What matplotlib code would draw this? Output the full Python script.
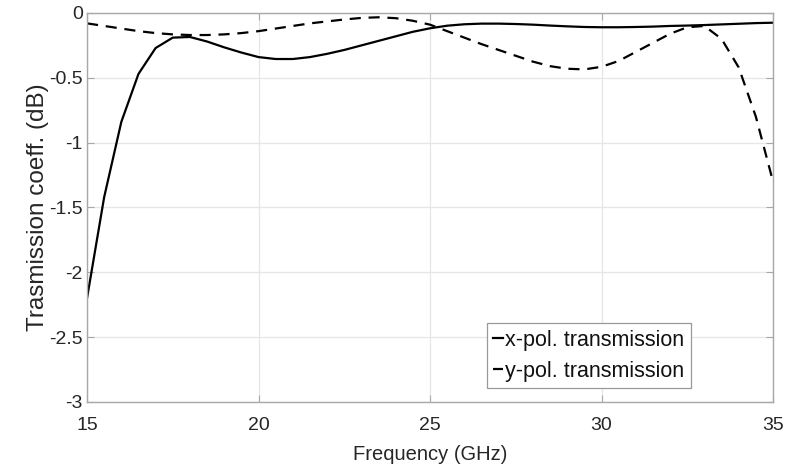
import numpy as np
import matplotlib
matplotlib.use("Agg")
import matplotlib.pyplot as plt

plt.rcParams["font.family"] = ["Liberation Sans", "DejaVu Sans"]

# frequency samples (GHz)
freq = np.arange(15.0, 35.01, 0.5)

# x-pol. transmission (dB)
x_pol = [-2.20, -1.42, -0.84, -0.47, -0.27, -0.19, -0.185, -0.22, -0.265, -0.305,
         -0.34, -0.355, -0.355, -0.34, -0.315, -0.285, -0.25, -0.215, -0.18, -0.145,
         -0.118, -0.098, -0.087, -0.082, -0.082, -0.085, -0.09, -0.097, -0.103, -0.108,
         -0.11, -0.11, -0.108, -0.105, -0.10, -0.097, -0.093, -0.088, -0.083, -0.078,
         -0.075]

# y-pol. transmission (dB)
y_pol = [-0.08, -0.10, -0.12, -0.14, -0.155, -0.165, -0.17, -0.17, -0.165, -0.155,
         -0.14, -0.12, -0.10, -0.08, -0.065, -0.05, -0.038, -0.033, -0.04, -0.06,
         -0.09, -0.14, -0.19, -0.24, -0.285, -0.33, -0.375, -0.41, -0.43, -0.435,
         -0.415, -0.37, -0.30, -0.23, -0.16, -0.11, -0.10, -0.20, -0.42, -0.80,
         -1.30]

x_ticks = [15, 20, 25, 30, 35]
y_ticks = [-3, -2.5, -2, -1.5, -1, -0.5, 0]
y_ticklabels = ["-3", "-2.5", "-2", "-1.5", "-1", "-0.5", "0"]

TXT = "#262626"
EDGE = "#a8a8a8"

fig = plt.figure(figsize=(8.08, 4.69), dpi=100)
ax = fig.add_axes([0.1077, 0.1429, 0.849, 0.8294])

ax.plot(freq, x_pol, color="black", lw=1.6, ls="-", label="x-pol. transmission")
ax.plot(freq, y_pol, color="black", lw=1.6, ls=(0, (5, 3.5)), label="y-pol. transmission")

ax.set_xlim(15, 35)
ax.set_ylim(-3, 0)
ax.set_xticks(x_ticks)
ax.set_yticks(y_ticks)
ax.set_yticklabels(y_ticklabels)
ax.grid(True, color="#e6e6e6", lw=0.9)
ax.set_axisbelow(True)

for s in ax.spines.values():
    s.set_color(EDGE)
    s.set_linewidth(1.0)
ax.tick_params(direction="in", top=True, right=True, length=5, width=0.8,
               color=EDGE, labelcolor=TXT, labelsize=14)
ax.tick_params(axis="x", pad=11)
ax.tick_params(axis="y", pad=3)

ax.set_xlabel("Frequency (GHz)", fontsize=14.5, color=TXT, labelpad=8)
ax.set_ylabel("Trasmission coeff. (dB)", fontsize=17.5, color=TXT, labelpad=0)

leg = ax.legend(loc="lower left", bbox_to_anchor=(0.583, 0.036), fontsize=15.5,
                handlelength=0.45, handletextpad=0.1, borderpad=0.3,
                labelspacing=0.45, borderaxespad=0, fancybox=False,
                framealpha=1, edgecolor="#999999")
leg.get_frame().set_linewidth(0.9)
for t in leg.get_texts():
    t.set_color("#111111")

fig.savefig("out.png", dpi=100)
